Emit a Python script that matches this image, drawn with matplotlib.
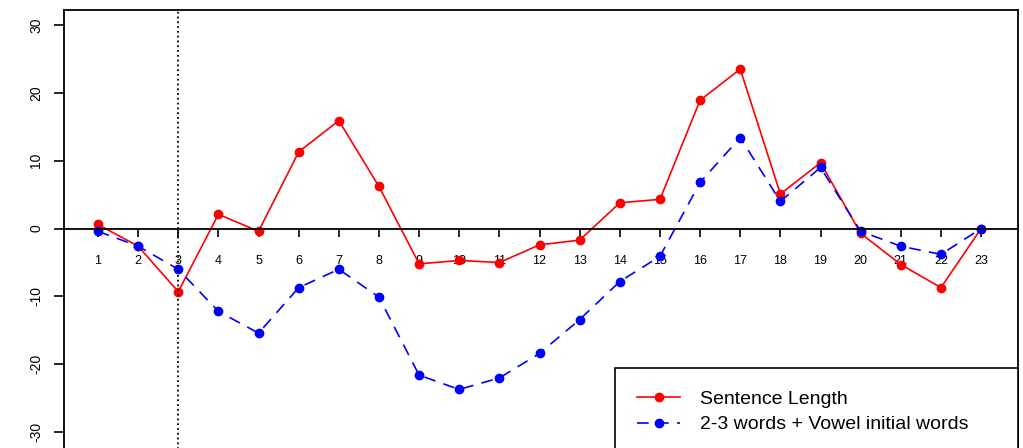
import matplotlib
matplotlib.use("Agg")
import matplotlib.pyplot as plt

plt.rcParams.update({"font.family": ["Liberation Sans", "DejaVu Sans"]})

RED = "#FF0000"; BLUE = "#0000FF"

positions = list(range(1, 24))
sentence_length = [0.6, -2.6, -9.3, 2.1, -0.4, 11.3, 15.9, 6.2, -5.2, -4.7, -5.0, -2.4,
                   -1.7, 3.8, 4.3, 18.9, 23.5, 5.1, 9.7, -0.7, -5.3, -8.7, 0.0]
vowel_words = [-0.4, -2.6, -6.0, -12.2, -15.4, -8.7, -6.0, -10.1, -21.6, -23.7, -22.0, -18.4,
               -13.4, -7.8, -4.1, 6.8, 13.4, 4.0, 9.0, -0.4, -2.6, -3.8, 0.0]
y_ticks = [-30, -20, -10, 0, 10, 20, 30]
marker_x = 3

fig = plt.figure(figsize=(10.23, 4.48), dpi=100)
ax = fig.add_axes([64 / 1023, -10 / 448, 954 / 1023, 1.0])

ax.plot(positions, sentence_length, "-", color=RED, linewidth=1.2,
        marker="o", markersize=6, label="Sentence Length")
ax.plot(positions, vowel_words, "--", color=BLUE, linewidth=1.2, dashes=(7, 5),
        marker="o", markersize=6, label="2-3 words + Vowel initial words")
ax.axvline(marker_x, color="black", linestyle=":", linewidth=1.3)

ax.set_xlim(0.153, 23.92)
ax.set_ylim(-33.8, 32.2)

# x axis sits on the zero line
ax.spines["bottom"].set_position(("data", 0))
ax.spines["bottom"].set_linewidth(1.3)
for s in ("left", "top", "right"):
    ax.spines[s].set_linewidth(1.3)
ax.set_xticks(positions)
ax.tick_params(axis="x", direction="out", length=6, width=1.2, labelsize=9, pad=13)
ax.set_yticks(y_ticks)
ax.set_yticklabels([str(v) for v in y_ticks], rotation=90, va="center")
ax.tick_params(axis="y", direction="out", length=7, width=1.2, labelsize=10, pad=8)

leg = ax.legend(loc="upper left", bbox_to_anchor=(0.5776, 0.0009, 0.4224, 0.2),
                mode="expand", fontsize=14,
                frameon=True, fancybox=False, edgecolor="black", framealpha=1,
                borderpad=1.15, labelspacing=0.4, handlelength=2.2, handletextpad=1.0,
                borderaxespad=0)
leg.get_frame().set_linewidth(1.2)

fig.savefig("out.png", dpi=100)
plt.close()
